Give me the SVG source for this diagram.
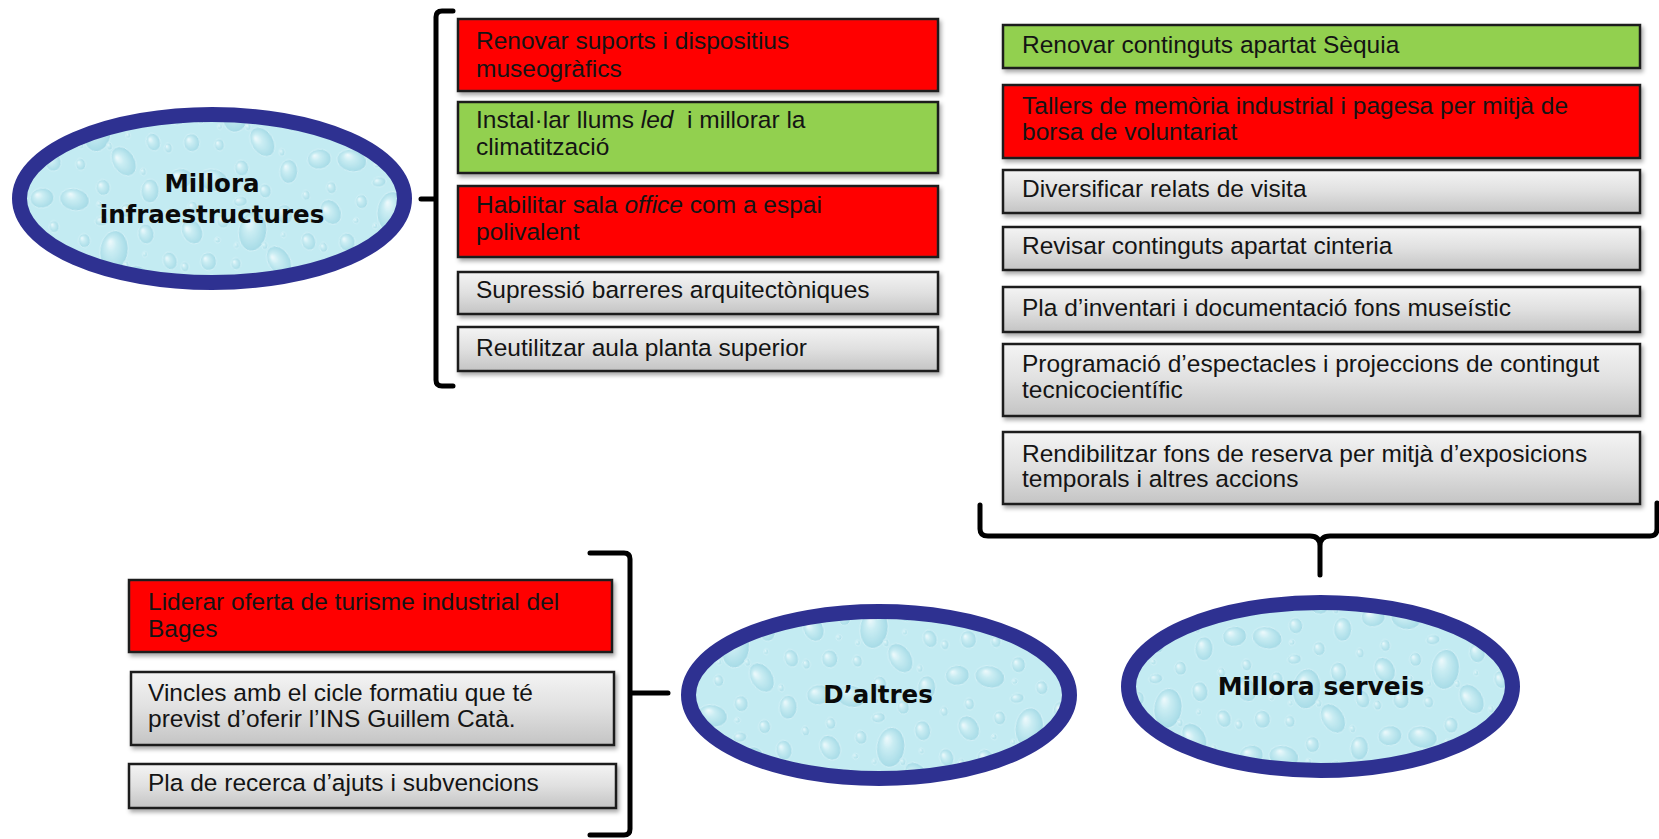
<svg xmlns="http://www.w3.org/2000/svg" width="1659" height="839" viewBox="0 0 1659 839">
<defs>
<style>
.box{stroke:#1c1c1c;stroke-width:2.5;filter:url(#sh)}
.red{fill:#ff0000}
.green{fill:#92d050}
.grey{fill:url(#greyGrad)}
.t{font-family:"Liberation Sans",Arial,sans-serif;font-size:24.5px;fill:#141414}
.et{font-family:"DejaVu Sans",Verdana,sans-serif;font-weight:bold;font-size:24.5px;fill:#0a0a0a;text-anchor:middle}
.ell{fill:url(#water);stroke:#2e3191;stroke-width:15}
.br{fill:none;stroke:#000;stroke-width:5;stroke-linecap:round;stroke-linejoin:round}
</style>
<linearGradient id="greyGrad" x1="0" y1="0" x2="0" y2="1">
<stop offset="0" stop-color="#f4f4f4"/>
<stop offset="0.5" stop-color="#e0e0e0"/>
<stop offset="1" stop-color="#c4c4c4"/>
</linearGradient>
<radialGradient id="drop" cx="0.5" cy="0.55" r="0.6" fx="0.32" fy="0.28">
<stop offset="0" stop-color="#ffffff" stop-opacity="0.9"/>
<stop offset="0.3" stop-color="#cdeef4"/>
<stop offset="0.75" stop-color="#a6dbe7"/>
<stop offset="1" stop-color="#8cc9da"/>
</radialGradient>
<pattern id="water" width="140" height="120" patternUnits="userSpaceOnUse" patternTransform="rotate(-8)">
<rect width="140" height="120" fill="#c3ebf2"/>
<g fill="url(#drop)" stroke="#e0f6fa" stroke-width="0.8" opacity="0.8">
<ellipse cx="18" cy="16" rx="10" ry="13" transform="rotate(-20 18 16)"/>
<ellipse cx="50" cy="10" rx="6" ry="7"/>
<ellipse cx="78" cy="24" rx="14" ry="20" transform="rotate(15 78 24)"/>
<ellipse cx="112" cy="12" rx="8" ry="10"/>
<ellipse cx="132" cy="42" rx="7" ry="9" transform="rotate(-10 132 42)"/>
<ellipse cx="30" cy="48" rx="8" ry="9"/>
<ellipse cx="57" cy="54" rx="5" ry="6"/>
<ellipse cx="100" cy="57" rx="11" ry="16" transform="rotate(-25 100 57)"/>
<ellipse cx="14" cy="82" rx="12" ry="10"/>
<ellipse cx="46" cy="88" rx="15" ry="11" transform="rotate(20 46 88)"/>
<ellipse cx="76" cy="80" rx="7" ry="8"/>
<ellipse cx="122" cy="90" rx="9" ry="12" transform="rotate(10 122 90)"/>
<ellipse cx="96" cy="106" rx="6" ry="7"/>
<ellipse cx="70" cy="113" rx="7" ry="5"/>
<ellipse cx="22" cy="112" rx="5" ry="6"/>
<ellipse cx="136" cy="116" rx="4" ry="5"/>
<ellipse cx="88" cy="40" rx="3" ry="4"/>
<ellipse cx="42" cy="28" rx="3" ry="3"/>
<ellipse cx="6" cy="50" rx="4" ry="5"/>
<ellipse cx="118" cy="70" rx="3" ry="4"/>
<ellipse cx="70" cy="96" rx="3" ry="3"/>
<ellipse cx="60" cy="36" rx="2.5" ry="3"/>
<ellipse cx="108" cy="32" rx="2.5" ry="3"/>
</g>
</pattern>
<filter id="sh" x="-5%" y="-20%" width="115%" height="160%">
<feDropShadow dx="2" dy="3" stdDeviation="2" flood-color="#000" flood-opacity="0.35"/>
</filter>
</defs>
<rect width="1659" height="839" fill="#ffffff"/>

<g id="connectors">
<path class="br" d="M453 11 L442 11 Q436 11 436 17 L436 380 Q436 386 442 386 L453 386 M436 199 L421 199"/>
<path class="br" d="M980 505 L980 529 Q980 536 988 536 L1310 536 Q1320 536 1320 546 L1320 575 M1320 546 Q1320 536 1330 536 L1650 536 Q1657 536 1657 529 L1657 503"/>
<path class="br" d="M590 553 L624 553 Q630 553 630 559 L630 829 Q630 835 624 835 L590 835 M630 693 L668 693"/>
</g>

<g id="node-infra">
<ellipse class="ell" cx="212" cy="198.5" rx="192.5" ry="84"/>
<text class="et" x="212" y="192">Millora</text>
<text class="et" x="212" y="223">infraestructures</text>
</g>
<g id="node-altres">
<ellipse class="ell" cx="879" cy="695" rx="190.5" ry="83.5"/>
<text class="et" x="878" y="703">D’altres</text>
</g>
<g id="node-serveis">
<ellipse class="ell" cx="1320.5" cy="686.5" rx="192" ry="84"/>
<text class="et" x="1321" y="695" style="font-size:25px">Millora serveis</text>
</g>

<g id="infra-1"><rect class="box red" x="458" y="19" width="480" height="72"/>
<text class="t" x="476" y="49.3">Renovar suports i dispositius</text><text class="t" x="476" y="76.7">museogràfics</text></g>
<g id="infra-2"><rect class="box green" x="458" y="102" width="480" height="71"/>
<text class="t" x="476" y="128.3" xml:space="preserve">Instal·lar llums <tspan font-style="italic">led</tspan>  i millorar la</text><text class="t" x="476" y="155">climatització</text></g>
<g id="infra-3"><rect class="box red" x="458" y="186" width="480" height="71"/>
<text class="t" x="476" y="213.3">Habilitar sala <tspan font-style="italic">office</tspan> com a espai</text><text class="t" x="476" y="240">polivalent</text></g>
<g id="infra-4"><rect class="box grey" x="458" y="272" width="480" height="42"/>
<text class="t" x="476" y="297.7">Supressió barreres arquitectòniques</text></g>
<g id="infra-5"><rect class="box grey" x="458" y="327" width="480" height="44"/>
<text class="t" x="476" y="356">Reutilitzar aula planta superior</text></g>

<g id="serv-1"><rect class="box green" x="1003" y="25" width="637" height="43"/>
<text class="t" x="1022" y="53.3">Renovar continguts apartat Sèquia</text></g>
<g id="serv-2"><rect class="box red" x="1003" y="85" width="637" height="73"/>
<text class="t" x="1022" y="114.3">Tallers de memòria industrial i pagesa per mitjà de</text><text class="t" x="1022" y="140">borsa de voluntariat</text></g>
<g id="serv-3"><rect class="box grey" x="1003" y="170" width="637" height="43"/>
<text class="t" x="1022" y="196.7">Diversificar relats de visita</text></g>
<g id="serv-4"><rect class="box grey" x="1003" y="227" width="637" height="43"/>
<text class="t" x="1022" y="254">Revisar continguts apartat cinteria</text></g>
<g id="serv-5"><rect class="box grey" x="1003" y="287" width="637" height="45"/>
<text class="t" x="1022" y="316">Pla d’inventari i documentació fons museístic</text></g>
<g id="serv-6"><rect class="box grey" x="1003" y="344" width="637" height="72"/>
<text class="t" x="1022" y="371.7">Programació d’espectacles i projeccions de contingut</text><text class="t" x="1022" y="398.3">tecnicocientífic</text></g>
<g id="serv-7"><rect class="box grey" x="1003" y="432" width="637" height="72"/>
<text class="t" x="1022" y="461.7">Rendibilitzar fons de reserva per mitjà d’exposicions</text><text class="t" x="1022" y="487.3">temporals i altres accions</text></g>

<g id="alt-1"><rect class="box red" x="129" y="580" width="483" height="72"/>
<text class="t" x="148" y="610">Liderar oferta de turisme industrial del</text><text class="t" x="148" y="636.7">Bages</text></g>
<g id="alt-2"><rect class="box grey" x="131" y="672" width="483" height="73"/>
<text class="t" x="148" y="700.7">Vincles amb el cicle formatiu que té</text><text class="t" x="148" y="726.7">previst d’oferir l’INS Guillem Catà.</text></g>
<g id="alt-3"><rect class="box grey" x="129" y="764" width="487" height="44"/>
<text class="t" x="148" y="790.7">Pla de recerca d’ajuts i subvencions</text></g>
</svg>
